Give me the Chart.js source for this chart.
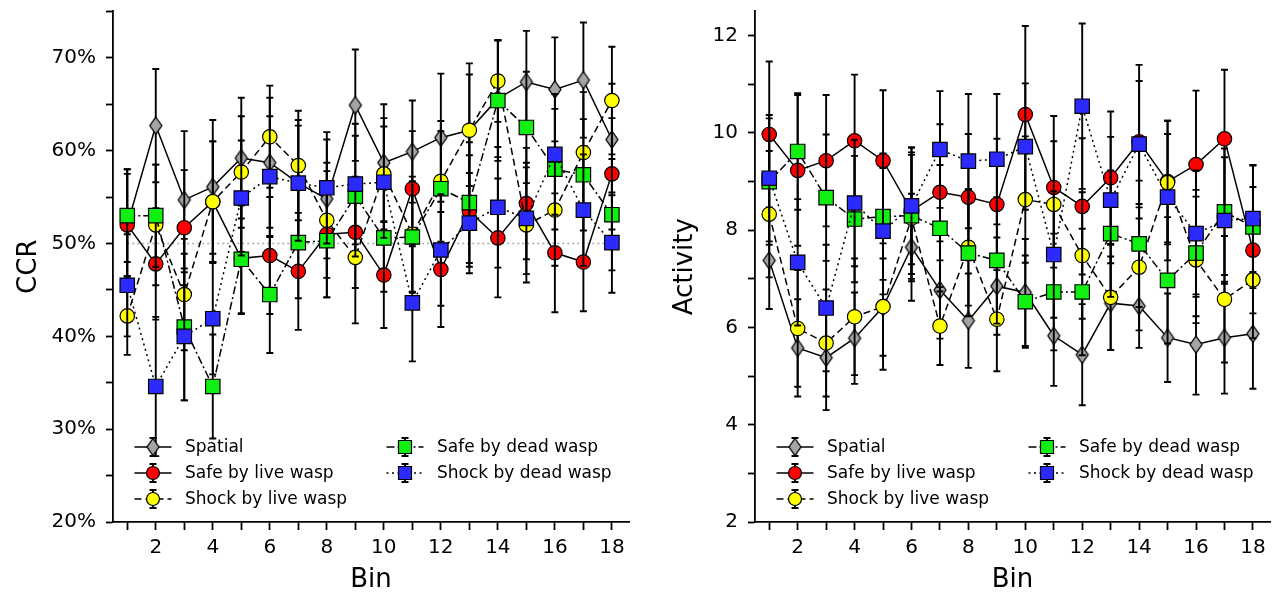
<!DOCTYPE html>
<html lang="en">
<head>
  <meta charset="UTF-8" />
  <title>CCR and Activity by Bin</title>
  <script src="https://cdn.jsdelivr.net/npm/chart.js"></script>
  <style>
    body {
      margin: 0;
      background: #fff;
      font-family: 'DejaVu Sans', sans-serif;
    }
    .wrap {
      display: flex;
      width: 1282px;
      height: 598px;
    }
    .panel {
      width: 641px;
      height: 598px;
    }
  </style>
</head>
<body>
  <div class="wrap">
    <div class="panel"><canvas id="ccrChart" width="641" height="598"></canvas></div>
    <div class="panel"><canvas id="actChart" width="641" height="598"></canvas></div>
  </div>

  <script>
    // ---- data ----
    const bins = [1, 2, 3, 4, 5, 6, 7, 8, 9, 10, 11, 12, 13, 14, 15, 16, 17, 18];
    const binTicks = [1, 2, 3, 4, 5, 6, 7, 8, 9, 10, 11, 12, 13, 14, 15, 16, 17, 18];
    const ccrTicks = [20, 25, 30, 35, 40, 45, 50, 55, 60, 65, 70, 75];
    const actTicks = [2, 3, 4, 5, 6, 7, 8, 9, 10, 11, 12];
    const seriesNames = ['Spatial', 'Safe by live wasp', 'Shock by live wasp', 'Safe by dead wasp', 'Shock by dead wasp'];

    const chanceBins = [1, 18];
    const ccrChance = [50, 50];

    // CCR (%)
    const ccrSpatial  = [52.0, 62.7, 54.7, 56.1, 59.2, 58.7, 56.5, 54.8, 64.9, 58.7, 59.9, 61.4, 62.2, 65.6, 67.4, 66.6, 67.6, 61.2];
    const ccrSafeLive = [52.0, 47.8, 51.7, 54.5, 48.4, 48.7, 47.0, 51.0, 51.2, 46.6, 55.9, 47.2, 53.5, 50.6, 54.3, 49.0, 48.0, 57.5];
    const ccrShockLive= [42.2, 52.0, 44.5, 54.5, 57.7, 61.5, 58.4, 52.5, 48.5, 57.5, 51.0, 56.7, 62.2, 67.5, 52.0, 53.6, 59.8, 65.4];
    const ccrSafeDead = [53.0, 53.0, 41.0, 34.6, 48.3, 44.5, 50.1, 50.3, 55.1, 50.6, 50.7, 55.9, 54.4, 65.4, 62.5, 58.0, 57.4, 53.1];
    const ccrShockDead= [45.5, 34.6, 40.0, 41.9, 54.9, 57.2, 56.5, 56.0, 56.4, 56.6, 43.6, 49.3, 52.2, 53.9, 52.7, 59.6, 53.6, 50.1];

    const ccrSpatialErr  = [6.0, 6.1, 7.4, 7.2, 6.5, 7.0, 6.8, 6.4, 6.0, 6.3, 5.5, 6.9, 7.2, 6.3, 5.5, 5.6, 6.2, 6.0];
    const ccrSafeLiveErr = [5.5, 6.0, 6.2, 6.5, 6.0, 6.3, 6.3, 6.8, 6.0, 5.7, 6.2, 6.2, 6.0, 6.4, 6.0, 6.4, 5.3, 6.0];
    const ccrShockLiveErr= [4.2, 6.5, 6.0, 6.5, 6.0, 5.5, 5.9, 6.2, 7.1, 6.0, 6.2, 6.5, 6.0, 4.4, 6.2, 6.0, 6.5, 5.8];
    const ccrSafeDeadErr = [5.0, 5.5, 7.9, 5.6, 5.8, 6.3, 6.0, 6.1, 6.5, 5.8, 6.0, 6.2, 6.5, 6.5, 6.0, 6.5, 6.0, 6.0];
    const ccrShockDeadErr= [5.5, 7.5, 6.9, 6.0, 6.2, 6.5, 6.2, 6.0, 6.5, 6.0, 6.3, 6.0, 5.4, 6.5, 6.0, 6.5, 6.0, 5.4];

    // Activity
    const actSpatial  = [7.38, 5.58, 5.38, 5.78, 6.42, 7.65, 6.77, 6.14, 6.85, 6.72, 5.83, 5.44, 6.50, 6.44, 5.79, 5.65, 5.79, 5.87];
    const actSafeLive = [9.97, 9.23, 9.43, 9.84, 9.43, 8.40, 8.78, 8.68, 8.53, 10.38, 8.88, 8.49, 9.08, 9.82, 9.00, 9.35, 9.88, 7.59];
    const actShockLive= [8.33, 5.98, 5.68, 6.22, 6.43, 8.25, 6.03, 7.65, 6.17, 8.63, 8.53, 7.48, 6.62, 7.24, 8.98, 7.39, 6.58, 6.98];
    const actSafeDead = [9.00, 9.62, 8.67, 8.23, 8.28, 8.30, 8.04, 7.53, 7.38, 6.53, 6.73, 6.73, 7.93, 7.72, 6.97, 7.53, 8.38, 8.07];
    const actShockDead= [9.07, 7.34, 6.40, 8.56, 7.98, 8.50, 9.66, 9.42, 9.46, 9.72, 7.50, 10.55, 8.62, 9.77, 8.68, 7.93, 8.20, 8.24];

    const actSpatialErr  = [1.0, 1.0, 1.08, 0.94, 1.0, 1.1, 1.0, 0.97, 1.0, 1.1, 1.03, 1.04, 0.96, 0.86, 0.91, 1.03, 1.15, 1.13];
    const actSafeLiveErr = [1.5, 1.55, 1.35, 1.36, 1.45, 1.3, 1.4, 1.3, 1.35, 1.82, 1.47, 1.4, 1.36, 1.58, 1.25, 1.52, 1.42, 1.3];
    const actShockLiveErr= [1.3, 1.2, 1.1, 1.2, 1.3, 1.3, 0.8, 1.2, 1.07, 1.3, 1.3, 1.3, 1.08, 1.3, 1.27, 1.3, 1.3, 1.2];
    const actSafeDeadErr = [1.3, 1.2, 1.3, 1.3, 1.3, 1.3, 1.3, 1.3, 1.3, 0.95, 1.2, 1.3, 1.3, 1.3, 1.3, 1.3, 1.3, 1.26];
    const actShockDeadErr= [1.3, 1.3, 1.3, 1.3, 1.3, 1.2, 1.2, 1.38, 1.34, 1.3, 1.3, 1.7, 1.3, 1.3, 1.3, 1.3, 1.3, 1.1];

    // ---- styling ----
    Chart.defaults.font.family = "'DejaVu Sans', sans-serif";
    Chart.defaults.color = '#000';

    // matplotlib style thin diamond
    function thinDiamond(w, h, fill) {
      const c = document.createElement('canvas');
      c.width = w + 4;
      c.height = h + 4;
      const g = c.getContext('2d');
      const cx = c.width / 2, cy = c.height / 2;
      g.beginPath();
      g.moveTo(cx, cy - h / 2);
      g.lineTo(cx + w / 2, cy);
      g.lineTo(cx, cy + h / 2);
      g.lineTo(cx - w / 2, cy);
      g.closePath();
      g.fillStyle = fill;
      g.fill();
      g.lineWidth = 1.3;
      g.strokeStyle = '#000';
      g.stroke();
      return c;
    }

    const diamondImg = thinDiamond(12, 17, '#a4a4a4');

    const looks = [
      { fill: '#a4a4a4', style: diamondImg, radius: 7, legendRadius: 6.5, dash: [] },
      { fill: '#ff0000', style: 'circle', radius: 7.2, legendRadius: 6.5, dash: [] },
      { fill: '#ffff00', style: 'circle', radius: 7.2, legendRadius: 6.5, dash: [7, 4] },
      { fill: '#11ee11', style: 'rect', radius: 10.2, legendRadius: 9.2, dash: [8, 3, 2, 3] },
      { fill: '#2b2bff', style: 'rect', radius: 10.2, legendRadius: 9.2, dash: [2, 3.5] }
    ];

    // error bars drawn just before their own series so markers sit on top
    const errorBars = {
      id: 'errorBars',
      beforeDatasetDraw(chart, args) {
        const ds = chart.data.datasets[args.index];
        if (!ds.errors) return;
        const xs = chart.scales.x, ys = chart.scales.y;
        const ctx = chart.ctx;
        ctx.save();
        ctx.strokeStyle = '#000';
        ctx.lineWidth = 1.9;
        ctx.setLineDash([]);
        ds.data.forEach((p, i) => {
          const e = ds.errors[i];
          const x = xs.getPixelForValue(p.x);
          const y0 = ys.getPixelForValue(p.y - e);
          const y1 = ys.getPixelForValue(p.y + e);
          ctx.beginPath();
          ctx.moveTo(x, y0); ctx.lineTo(x, y1);
          ctx.moveTo(x - 3.5, y0); ctx.lineTo(x + 3.5, y0);
          ctx.moveTo(x - 3.5, y1); ctx.lineTo(x + 3.5, y1);
          ctx.stroke();
        });
        ctx.restore();
      }
    };

    // two column legend like matplotlib, inside lower left of the axes
    const legendSlots = [[40, -75], [40, -49], [40, -23], [292, -75], [292, -49]];
    const errLegend = {
      id: 'errLegend',
      afterDraw(chart) {
        const ctx = chart.ctx;
        const area = chart.chartArea;
        ctx.save();
        seriesNames.forEach((name, i) => {
          const lk = looks[i];
          const mx = area.left + legendSlots[i][0];
          const my = area.bottom + legendSlots[i][1];
          ctx.strokeStyle = '#000';
          ctx.lineWidth = 1.6;
          ctx.setLineDash(lk.dash);
          ctx.beginPath();
          ctx.moveTo(mx - 18.5, my);
          ctx.lineTo(mx + 18.5, my);
          ctx.stroke();
          ctx.setLineDash([]);
          ctx.lineWidth = 1.9;
          ctx.beginPath();
          ctx.moveTo(mx, my - 9); ctx.lineTo(mx, my + 9);
          ctx.moveTo(mx - 3.5, my - 9); ctx.lineTo(mx + 3.5, my - 9);
          ctx.moveTo(mx - 3.5, my + 9); ctx.lineTo(mx + 3.5, my + 9);
          ctx.stroke();
          ctx.fillStyle = lk.fill;
          ctx.lineWidth = 1.2;
          Chart.helpers.drawPoint(ctx, { pointStyle: lk.style, radius: lk.legendRadius, rotation: 0, borderWidth: 1.2 }, mx, my);
          ctx.fillStyle = '#000';
          ctx.font = "17px 'DejaVu Sans', sans-serif";
          ctx.textBaseline = 'middle';
          ctx.textAlign = 'left';
          ctx.fillText(name, mx + 32, my + 1);
        });
        ctx.restore();
      }
    };

    function makeSeries(values, errors, i) {
      const lk = looks[i];
      return {
        label: seriesNames[i],
        data: bins.map((b, k) => ({ x: b, y: values[k] })),
        errors: errors,
        borderColor: '#000',
        borderWidth: 1.5,
        borderDash: lk.dash,
        pointStyle: lk.style,
        pointRadius: lk.radius,
        pointBackgroundColor: lk.fill,
        pointBorderColor: '#000',
        pointBorderWidth: 1.2,
        tension: 0,
        order: 5 - i
      };
    }

    function axisOptions(yTicks, yMin, yMax, yLabel, yFmt, yWidth, yTitlePad) {
      return {
        x: {
          type: 'linear',
          min: 0.5,
          max: 18.6,
          afterBuildTicks: axis => { axis.ticks = binTicks.map(v => ({ value: v })); },
          afterFit: axis => {
            axis.height = 76;
            axis.paddingLeft = 0;
            axis.paddingRight = 0;
          },
          ticks: {
            font: { size: 20 },
            padding: 6,
            maxRotation: 0,
            autoSkip: false,
            callback: v => (v % 2 === 0 ? String(v) : '')
          },
          grid: { drawOnChartArea: false, drawTicks: true, tickLength: 8, tickWidth: 1.8, tickColor: '#000' },
          border: { display: true, color: '#000', width: 1.8 },
          title: { display: true, text: 'Bin', font: { size: 26 }, padding: { top: 0, bottom: 2 } }
        },
        y: {
          type: 'linear',
          min: yMin,
          max: yMax,
          afterBuildTicks: axis => { axis.ticks = yTicks.map(v => ({ value: v })); },
          afterFit: axis => {
            axis.width = yWidth;
            axis.paddingTop = 0;
            axis.paddingBottom = 0;
          },
          ticks: {
            font: { size: 20 },
            padding: 10,
            autoSkip: false,
            callback: yFmt
          },
          grid: { drawOnChartArea: false, drawTicks: true, tickLength: 7, tickWidth: 1.8, tickColor: '#000' },
          border: { display: true, color: '#000', width: 1.8 },
          title: { display: true, text: yLabel, font: { size: 26 }, padding: { top: yTitlePad, bottom: 0 } }
        }
      };
    }

    const baseOptions = {
      responsive: false,
      animation: false,
      layout: { padding: { top: 10, right: 12, left: 0, bottom: 0 } },
      plugins: { legend: { display: false }, tooltip: { enabled: false } }
    };

    new Chart(document.getElementById('ccrChart'), {
      type: 'line',
      data: {
        datasets: [
          {
            label: 'chance',
            data: chanceBins.map((b, k) => ({ x: b, y: ccrChance[k] })),
            borderColor: '#a8a8a8',
            borderWidth: 1.6,
            borderDash: [2, 3],
            pointRadius: 0,
            order: 10
          },
          makeSeries(ccrSpatial, ccrSpatialErr, 0),
          makeSeries(ccrSafeLive, ccrSafeLiveErr, 1),
          makeSeries(ccrShockLive, ccrShockLiveErr, 2),
          makeSeries(ccrSafeDead, ccrSafeDeadErr, 3),
          makeSeries(ccrShockDead, ccrShockDeadErr, 4)
        ]
      },
      options: Object.assign({}, baseOptions, {
        scales: axisOptions(ccrTicks, 20, 75, 'CCR', v => (v % 10 === 0 ? v + '%' : ''), 113, 14)
      }),
      plugins: [errorBars, errLegend]
    });

    new Chart(document.getElementById('actChart'), {
      type: 'line',
      data: {
        datasets: [
          makeSeries(actSpatial, actSpatialErr, 0),
          makeSeries(actSafeLive, actSafeLiveErr, 1),
          makeSeries(actShockLive, actShockLiveErr, 2),
          makeSeries(actSafeDead, actSafeDeadErr, 3),
          makeSeries(actShockDead, actShockDeadErr, 4)
        ]
      },
      options: Object.assign({}, baseOptions, {
        scales: axisOptions(actTicks, 2, 12.5, 'Activity', v => (v % 2 === 0 ? String(v) : ''), 114, 29)
      }),
      plugins: [errorBars, errLegend]
    });
  </script>
</body>
</html>
